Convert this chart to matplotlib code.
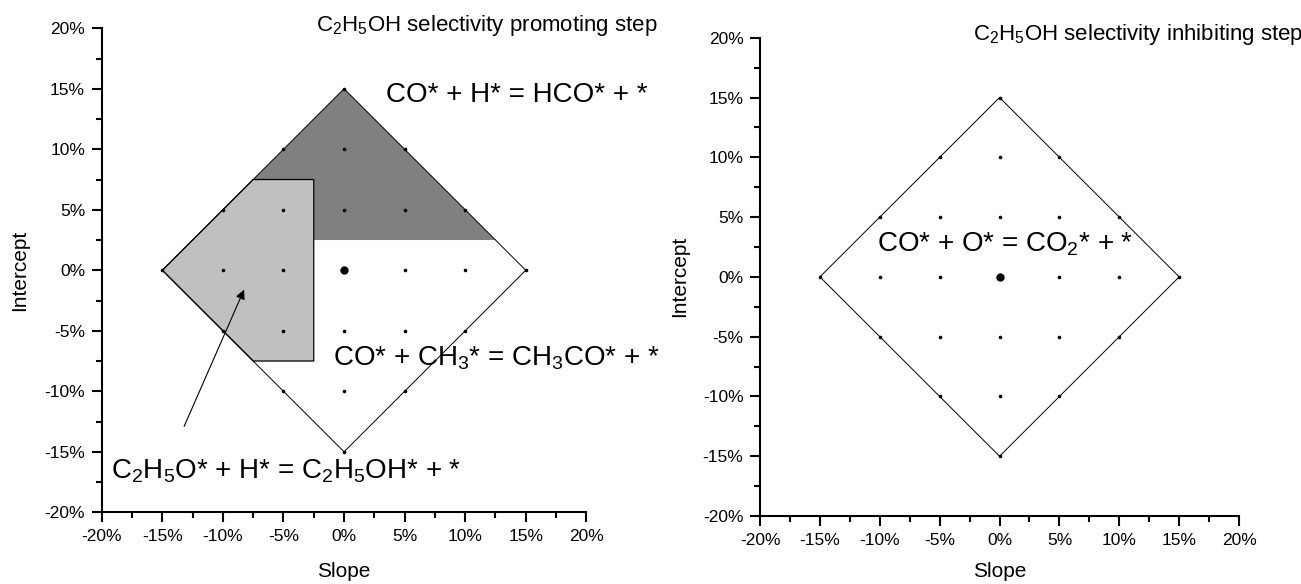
import matplotlib
matplotlib.use("Agg")
import matplotlib.pyplot as plt
from matplotlib.patches import Polygon

plt.rcParams['font.family'] = ['Liberation Sans', 'DejaVu Sans']
plt.rcParams['mathtext.fontset'] = 'custom'
plt.rcParams['mathtext.rm'] = 'Liberation Sans'
plt.rcParams['mathtext.it'] = 'Liberation Sans:italic'

# ---- data (percent) ----
tick_values = [-20, -15, -10, -5, 0, 5, 10, 15, 20]
tick_labels = ['-20%', '-15%', '-10%', '-5%', '0%', '5%', '10%', '15%', '20%']

diamond_slope = [-15, 0, 15, 0, -15]
diamond_intercept = [0, 15, 0, -15, 0]

grid_slope = [0, -5, 0, 5, -10, -5, 0, 5, 10, -15, -10, -5, 5, 10, 15,
              -10, -5, 0, 5, 10, -5, 0, 5, 0]
grid_intercept = [15, 10, 10, 10, 5, 5, 5, 5, 5, 0, 0, 0, 0, 0, 0,
                  -5, -5, -5, -5, -5, -10, -10, -10, -15]
center_slope = [0]
center_intercept = [0]

# regions of the left panel
promote_dark_slope = [0, 12.5, -2.5, -2.5, -7.5]
promote_dark_intercept = [15, 2.5, 2.5, 7.5, 7.5]
promote_light_slope = [-15, -7.5, -2.5, -2.5, -7.5]
promote_light_intercept = [0, 7.5, 7.5, -7.5, -7.5]

fig = plt.figure(figsize=(13.01, 5.84), dpi=100)
ax1 = fig.add_axes([0.0782, 0.1228, 0.3725, 0.8288])
ax2 = fig.add_axes([0.5842, 0.1164, 0.3682, 0.819])


def base_axes(ax, xpad, ypad):
    ax.set_xlim(-20, 20)
    ax.set_ylim(-20, 20)
    ax.spines['top'].set_visible(False)
    ax.spines['right'].set_visible(False)
    ax.spines['left'].set_linewidth(1.5)
    ax.spines['bottom'].set_linewidth(1.5)
    ax.set_xticks(tick_values)
    ax.set_xticklabels(tick_labels)
    ax.set_yticks(tick_values)
    ax.set_yticklabels(tick_labels)
    ax.set_xticks([v + 2.5 for v in tick_values[:-1]], minor=True)
    ax.set_yticks([v + 2.5 for v in tick_values[:-1]], minor=True)
    ax.tick_params(which='major', direction='out', length=7, width=1.5,
                   labelsize=12.5, pad=5)
    ax.tick_params(which='minor', direction='out', length=4, width=1.5)
    ax.set_xlabel('Slope', fontsize=15, labelpad=xpad)
    ax.set_ylabel('Intercept', fontsize=15, labelpad=ypad)
    ax.plot(diamond_slope, diamond_intercept, color='black', lw=0.7, zorder=3)
    ax.plot(grid_slope, grid_intercept, 'o', color='black', ms=1.6, zorder=4)
    ax.plot(center_slope, center_intercept, 'o', color='black', ms=5, zorder=4)


# ---- left panel ----
ax1.add_patch(Polygon(list(zip(promote_dark_slope, promote_dark_intercept)),
                      closed=True, facecolor='#808080', edgecolor='none', zorder=1))
ax1.add_patch(Polygon(list(zip(promote_light_slope, promote_light_intercept)),
                      closed=True, facecolor='#c0c0c0', edgecolor='black',
                      lw=0.9, zorder=2))
base_axes(ax1, 13, 11)

ax1.text(-2.3, 19.8, r'C$_\mathregular{2}$H$_\mathregular{5}$OH selectivity promoting step',
         fontsize=16, ha='left', va='baseline', clip_on=False)
ax1.text(3.5, 14.5, 'CO* + H* = HCO* + *', fontsize=20, ha='left', va='center',
         clip_on=False)
ax1.text(-0.9, -7.3, r'CO* + CH$_\mathregular{3}$* = CH$_\mathregular{3}$CO* + *',
         fontsize=20, ha='left', va='center', clip_on=False)
ax1.text(-19.2, -16.6, r'C$_\mathregular{2}$H$_\mathregular{5}$O* + H* = C$_\mathregular{2}$H$_\mathregular{5}$OH* + *',
         fontsize=20, ha='left', va='center', clip_on=False)
ax1.annotate('', xy=(-8.25, -1.6), xytext=(-13.2, -12.9),
             arrowprops=dict(arrowstyle='-|>', color='black', lw=0.8,
                             mutation_scale=14, shrinkA=0, shrinkB=0),
             zorder=5)

# ---- right panel ----
base_axes(ax2, 10, 10)
ax2.text(-2.2, 19.85, r'C$_\mathregular{2}$H$_\mathregular{5}$OH selectivity inhibiting step',
         fontsize=16, ha='left', va='baseline', clip_on=False)
ax2.text(-10.2, 2.7, r'CO* + O* = CO$_\mathregular{2}$* + *', fontsize=20,
         ha='left', va='center', clip_on=False)

fig.savefig('out.png', dpi=100)
